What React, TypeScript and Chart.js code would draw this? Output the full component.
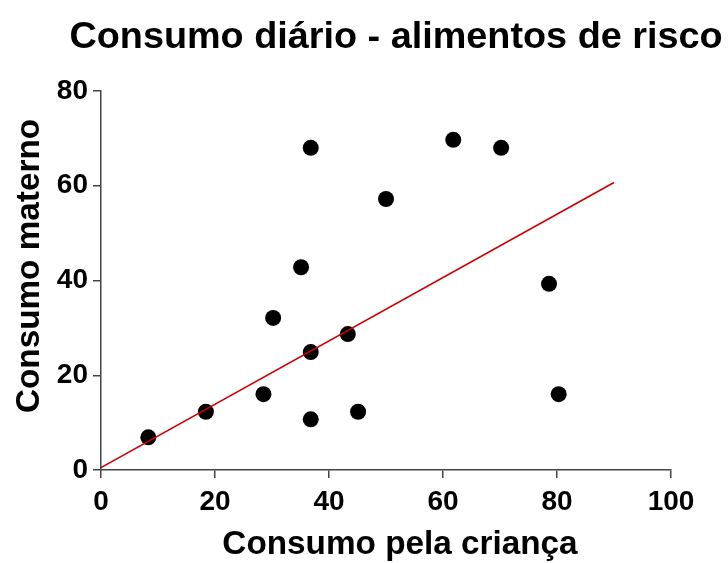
import React, { useEffect, useRef } from "react";
import { Chart, registerables } from "chart.js";

Chart.register(...registerables);

const chartTitle = "Consumo diário - alimentos de risco";
const xAxisTitle = "Consumo pela criança";
const yAxisTitle = "Consumo materno";

const childIntake = [8.3, 18.4, 28.5, 30.2, 35.1, 36.8, 36.8, 36.8, 43.3, 45.1, 50.0, 61.8, 70.2, 78.6, 80.3];
const motherIntake = [6.9, 12.3, 16.0, 32.1, 42.8, 68.0, 24.9, 10.7, 28.7, 12.3, 57.2, 69.7, 68.0, 39.3, 16.0];

const fitX = [0, 90];
const fitY = [0.5, 60.7];

const FONT = "'Liberation Sans', Arial, sans-serif";

const titlesPlugin = {
  id: "customTitles",
  afterDraw(chart: any) {
    const ctx = chart.ctx;
    const area = chart.chartArea;
    ctx.save();
    ctx.fillStyle = "#000";
    ctx.textAlign = "center";
    ctx.textBaseline = "alphabetic";
    ctx.font = `bold 37.8px ${FONT}`;
    ctx.fillText(chartTitle, area.left + 295, 48);
    ctx.font = `bold 33.3px ${FONT}`;
    ctx.fillText(xAxisTitle, area.left + 299, 554);
    ctx.translate(39, 266);
    ctx.rotate(-Math.PI / 2);
    ctx.fillText(yAxisTitle, 0, 0);
    ctx.restore();
  },
};

export default function App() {
  const ref = useRef<HTMLCanvasElement | null>(null);
  useEffect(() => {
    if (!ref.current) return;
    const tickFont = { family: FONT, size: 28, weight: "bold" as const };
    const chart = new Chart(ref.current, {
      type: "scatter",
      data: {
        datasets: [
          {
            type: "line",
            data: fitX.map((x, i) => ({ x, y: fitY[i] })),
            borderColor: "#cc0000",
            borderWidth: 1.6,
            pointRadius: 0,
            fill: false,
            order: 0,
          } as any,
          {
            type: "scatter",
            data: childIntake.map((x, i) => ({ x, y: motherIntake[i] })),
            backgroundColor: "#000",
            borderColor: "#000",
            pointRadius: 8,
            borderWidth: 0,
            order: 1,
          },
        ],
      },
      options: {
        animation: false,
        responsive: false,
        devicePixelRatio: 1,
        layout: { padding: { top: 91, right: 57, left: 0, bottom: 0 } },
        plugins: {
          legend: { display: false },
          tooltip: { enabled: false },
          title: { display: false },
        },
        scales: {
          x: {
            type: "linear",
            min: 0,
            max: 100,
            ticks: { stepSize: 20, font: tickFont, color: "#000", padding: 7 },
            grid: { drawOnChartArea: false, drawTicks: true, tickLength: 8, color: "#444", lineWidth: 1.5 },
            border: { color: "#444", width: 1.5 },
            afterFit: (s: any) => {
              s.height = 93;
            },
          },
          y: {
            type: "linear",
            min: 0,
            max: 80,
            ticks: { stepSize: 20, font: tickFont, color: "#000", padding: 5 },
            grid: { drawOnChartArea: false, drawTicks: true, tickLength: 8, color: "#444", lineWidth: 1.5 },
            border: { color: "#444", width: 1.5 },
            afterFit: (s: any) => {
              s.width = 101;
            },
          },
        },
      },
      plugins: [titlesPlugin],
    });
    return () => chart.destroy();
  }, []);
  return (
    <div style={{ position: "absolute", left: 0, top: 0, width: 728, height: 563, background: "#fff" }}>
      <canvas ref={ref} width={728} height={563} />
    </div>
  );
}
